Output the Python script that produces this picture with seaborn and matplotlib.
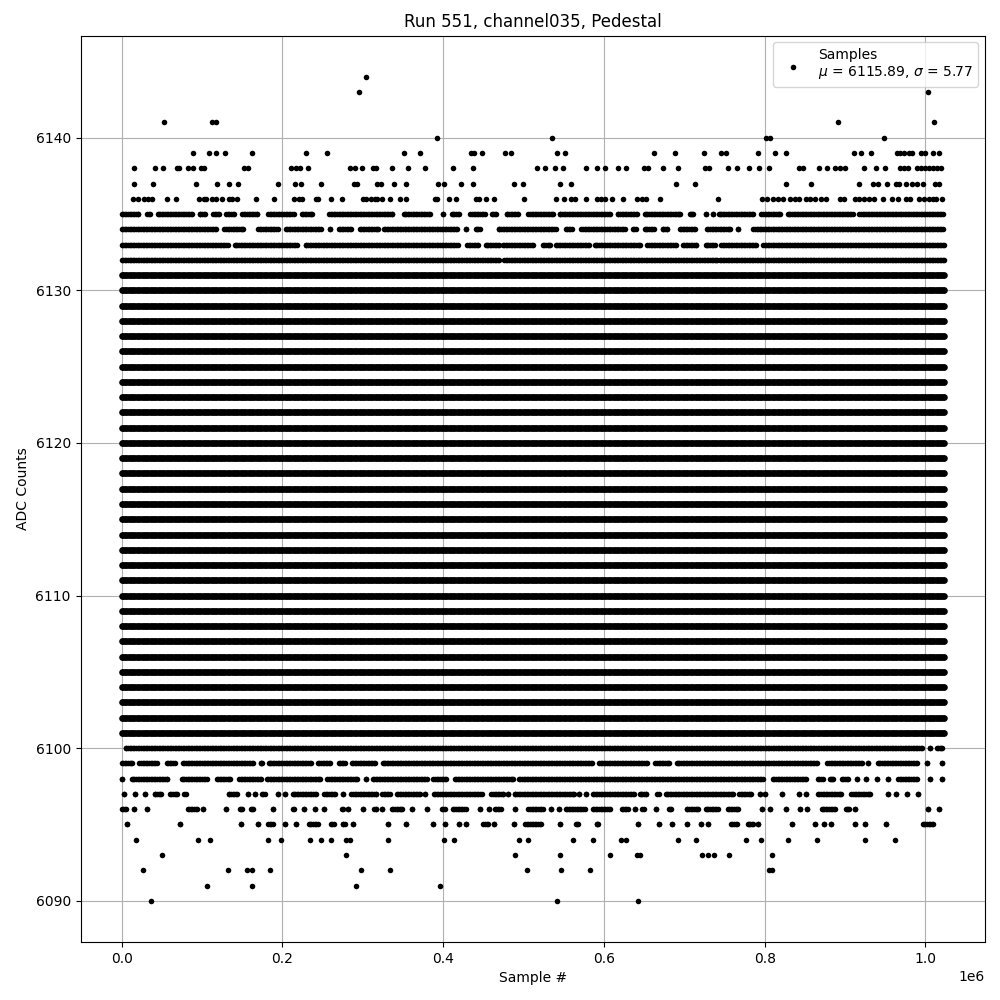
import matplotlib
matplotlib.use("Agg")
import matplotlib.pyplot as plt
import pandas as pd
import seaborn as sns

TITLE = "Run 551, channel035, Pedestal"
X_LABEL = "Sample #"
Y_LABEL = "ADC Counts"
LEGEND_LABEL = "Samples\n$\\mu$ = 6115.89, $\\sigma$ = 5.77"

# Sample positions (thousands) at which the solid rows are drawn. The source has
# about a million samples per channel; these stand in for what cannot be resolved.
SAMPLE_GRID = [
    0, 2, 4, 6, 8, 10, 12, 14, 16, 18, 20, 22, 24, 26, 28, 30, 32, 34, 36, 38, 40, 42,
    44, 46, 48, 50, 52, 54, 56, 58, 60, 62, 64, 66, 68, 70, 72, 74, 76, 78, 80, 82, 84,
    86, 88, 90, 92, 94, 96, 98, 100, 102, 104, 106, 108, 110, 112, 114, 116, 118, 120,
    122, 124, 126, 128, 130, 132, 134, 136, 138, 140, 142, 144, 146, 148, 150, 152, 154,
    156, 158, 160, 162, 164, 166, 168, 170, 172, 174, 176, 178, 180, 182, 184, 186, 188,
    190, 192, 194, 196, 198, 200, 202, 204, 206, 208, 210, 212, 214, 216, 218, 220, 222,
    224, 226, 228, 230, 232, 234, 236, 238, 240, 242, 244, 246, 248, 250, 252, 254, 256,
    258, 260, 262, 264, 266, 268, 270, 272, 274, 276, 278, 280, 282, 284, 286, 288, 290,
    292, 294, 296, 298, 300, 302, 304, 306, 308, 310, 312, 314, 316, 318, 320, 322, 324,
    326, 328, 330, 332, 334, 336, 338, 340, 342, 344, 346, 348, 350, 352, 354, 356, 358,
    360, 362, 364, 366, 368, 370, 372, 374, 376, 378, 380, 382, 384, 386, 388, 390, 392,
    394, 396, 398, 400, 402, 404, 406, 408, 410, 412, 414, 416, 418, 420, 422, 424, 426,
    428, 430, 432, 434, 436, 438, 440, 442, 444, 446, 448, 450, 452, 454, 456, 458, 460,
    462, 464, 466, 468, 470, 472, 474, 476, 478, 480, 482, 484, 486, 488, 490, 492, 494,
    496, 498, 500, 502, 504, 506, 508, 510, 512, 514, 516, 518, 520, 522, 524, 526, 528,
    530, 532, 534, 536, 538, 540, 542, 544, 546, 548, 550, 552, 554, 556, 558, 560, 562,
    564, 566, 568, 570, 572, 574, 576, 578, 580, 582, 584, 586, 588, 590, 592, 594, 596,
    598, 600, 602, 604, 606, 608, 610, 612, 614, 616, 618, 620, 622, 624, 626, 628, 630,
    632, 634, 636, 638, 640, 642, 644, 646, 648, 650, 652, 654, 656, 658, 660, 662, 664,
    666, 668, 670, 672, 674, 676, 678, 680, 682, 684, 686, 688, 690, 692, 694, 696, 698,
    700, 702, 704, 706, 708, 710, 712, 714, 716, 718, 720, 722, 724, 726, 728, 730, 732,
    734, 736, 738, 740, 742, 744, 746, 748, 750, 752, 754, 756, 758, 760, 762, 764, 766,
    768, 770, 772, 774, 776, 778, 780, 782, 784, 786, 788, 790, 792, 794, 796, 798, 800,
    802, 804, 806, 808, 810, 812, 814, 816, 818, 820, 822, 824, 826, 828, 830, 832, 834,
    836, 838, 840, 842, 844, 846, 848, 850, 852, 854, 856, 858, 860, 862, 864, 866, 868,
    870, 872, 874, 876, 878, 880, 882, 884, 886, 888, 890, 892, 894, 896, 898, 900, 902,
    904, 906, 908, 910, 912, 914, 916, 918, 920, 922, 924, 926, 928, 930, 932, 934, 936,
    938, 940, 942, 944, 946, 948, 950, 952, 954, 956, 958, 960, 962, 964, 966, 968, 970,
    972, 974, 976, 978, 980, 982, 984, 986, 988, 990, 992, 994, 996, 998, 1000, 1002,
    1004, 1006, 1008, 1010, 1012, 1014, 1016, 1018, 1020, 1022, 1023,
]

# ADC levels whose rows are solid across the whole run
SOLID_LEVELS = [
    6101, 6102, 6103, 6104, 6105, 6106, 6107, 6108, 6109, 6110, 6111, 6112, 6113,
    6114, 6115, 6116, 6117, 6118, 6119, 6120, 6121, 6122, 6123, 6124, 6125, 6126,
    6127, 6128, 6129, 6130, 6131,
]

# Isolated samples (thousands)
dots_6144 = [304]
dots_6143 = [295, 1003]
dots_6141 = [53, 112, 117, 891, 1011]
dots_6140 = [392, 535, 802, 807, 948]
dots_6139 = [89, 109, 118, 129, 162, 229, 255, 351, 371, 435, 439, 448, 477, 485,
             542, 552, 662, 688, 724, 746, 752, 792, 813, 827, 911, 920, 932, 965,
             969, 973, 979, 983, 995, 1000, 1010, 1017]
dots_6138 = [16, 42, 52, 69, 72, 82, 89, 99, 103, 152, 157, 211, 217, 222, 232, 284,
             290, 299, 313, 317, 336, 356, 378, 412, 437, 517, 527, 539, 549, 578,
             591, 601, 617, 627, 650, 655, 673, 692, 726, 731, 754, 765, 781, 793,
             806, 843, 848, 868, 877, 888, 894, 900, 923, 939, 950, 968, 973, 978,
             990, 995, 1000, 1005, 1010, 1015, 1020]
dots_6137 = [16, 39, 93, 119, 134, 145, 195, 216, 223, 248, 289, 293, 318, 323, 339,
             354, 393, 401, 422, 437, 488, 499, 545, 559, 690, 713, 826, 858, 918,
             935, 941, 952, 963, 967, 976, 983, 990, 997, 1012, 1017]
dots_6136 = [14, 21, 28, 33, 38, 57, 68, 96, 102, 105, 112, 118, 125, 134, 137, 144,
             167, 190, 214, 221, 224, 242, 244, 261, 274, 300, 304, 310, 315, 318,
             324, 334, 346, 354, 390, 392, 407, 416, 441, 445, 453, 463, 500, 541,
             551, 559, 564, 578, 592, 597, 602, 610, 624, 641, 647, 652, 670, 742,
             797, 803, 810, 817, 823, 832, 838, 843, 851, 857, 863, 870, 876, 894,
             899, 912, 917, 924, 930, 936, 947, 958, 966, 976, 981, 992, 998, 1004,
             1010, 1013, 1021]
dots_6094 = [18, 95, 110, 182, 198, 234, 248, 260, 279, 284, 332, 401, 413, 495, 506,
             562, 587, 621, 627, 692, 715, 777, 796, 829, 865, 925, 962]
dots_6093 = [50, 279, 490, 546, 607, 641, 645, 722, 729, 737, 756, 809]
dots_6092 = [26, 132, 156, 162, 185, 298, 334, 504, 547, 583, 805, 809]
dots_6091 = [106, 162, 291, 396]
dots_6090 = [36, 542, 642]

# Stretches of a partly filled row (first and last sample, thousands)
spans_6135 = [(0, 21), (32, 35), (45, 88), (97, 104), (114, 121), (130, 140), (150, 169),
              (182, 214), (224, 237), (258, 337), (351, 384), (400, 400), (411, 420),
              (434, 452), (461, 466), (479, 493), (506, 537), (545, 607), (617, 641),
              (651, 695), (707, 711), (727, 727), (736, 736), (743, 785), (796, 819),
              (829, 910), (918, 1022)]
spans_6134 = [(0, 117), (128, 151), (170, 194), (204, 248), (259, 259), (271, 286),
              (296, 319), (327, 417), (428, 428), (441, 446), (469, 540), (553, 560),
              (572, 626), (636, 640), (651, 662), (673, 679), (695, 713), (728, 757),
              (767, 767), (786, 1022)]
spans_6133 = [(0, 132), (141, 218), (229, 418), (430, 443), (453, 469), (475, 512),
              (524, 533), (541, 581), (589, 645), (654, 690), (698, 715), (727, 738),
              (746, 789), (798, 1023)]
spans_6132 = [(0, 470), (476, 741), (745, 1023)]
spans_6100 = [(5, 996), (1006, 1006), (1014, 1021)]
spans_6099 = [(0, 13), (22, 44), (57, 66), (76, 163), (173, 175), (183, 236), (244, 259),
              (270, 278), (287, 315), (325, 585), (594, 654), (664, 681), (691, 865),
              (878, 921), (929, 929), (941, 989), (1002, 1002), (1021, 1021)]
spans_6098 = [(0, 0), (13, 57), (75, 106), (119, 135), (146, 173), (181, 247), (256, 293),
              (304, 304), (313, 380), (388, 404), (415, 487), (495, 798), (810, 851),
              (867, 872), (881, 885), (896, 904), (915, 915), (926, 926), (940, 940),
              (954, 954), (966, 990), (1006, 1006), (1021, 1021)]
spans_6097 = [(3, 3), (17, 17), (29, 29), (41, 49), (60, 69), (78, 80), (133, 143),
              (157, 157), (166, 166), (175, 178), (194, 194), (203, 203), (213, 242),
              (252, 265), (275, 275), (286, 317), (324, 334), (343, 371), (378, 378),
              (389, 448), (460, 475), (481, 481), (489, 563), (569, 569), (578, 578),
              (587, 637), (645, 653), (666, 668), (677, 761), (768, 783), (794, 794),
              (800, 800), (822, 822), (843, 843), (852, 852), (867, 895), (908, 931),
              (954, 954), (963, 963), (977, 977), (991, 991)]
spans_6096 = [(0, 5), (15, 15), (31, 31), (83, 94), (101, 101), (130, 130), (147, 150),
              (161, 164), (188, 188), (213, 214), (227, 227), (240, 240), (252, 252),
              (274, 275), (282, 282), (300, 300), (314, 317), (324, 324), (336, 349),
              (361, 361), (380, 380), (399, 402), (412, 428), (446, 446), (457, 457),
              (465, 472), (490, 490), (506, 524), (534, 534), (544, 544), (553, 576),
              (587, 607), (622, 630), (639, 639), (648, 650), (665, 665), (681, 684),
              (703, 717), (727, 742), (755, 767), (797, 797), (807, 807), (826, 826),
              (844, 844), (853, 853), (871, 887), (901, 905), (913, 913), (1003, 1003),
              (1017, 1017)]
spans_6095 = [(7, 7), (73, 73), (149, 149), (170, 170), (182, 188), (203, 203), (217, 217),
              (233, 244), (261, 264), (275, 278), (288, 288), (331, 331), (354, 354),
              (388, 388), (402, 402), (420, 420), (429, 429), (450, 456), (463, 463),
              (488, 488), (502, 522), (546, 546), (565, 568), (591, 593), (643, 643),
              (669, 669), (685, 685), (703, 703), (721, 721), (729, 729), (758, 766),
              (779, 785), (792, 792), (834, 834), (863, 863), (874, 874), (883, 883),
              (913, 913), (925, 925), (951, 951), (997, 1010)]


def expand(spans):
    """Sample positions of a partly filled row."""
    out = []
    for first, last in spans:
        out += [first, last] + [s for s in SAMPLE_GRID if first < s < last]
    return out


rows = {
    6144: dots_6144, 6143: dots_6143, 6141: dots_6141, 6140: dots_6140,
    6139: dots_6139, 6138: dots_6138, 6137: dots_6137, 6136: dots_6136,
    6135: expand(spans_6135), 6134: expand(spans_6134), 6133: expand(spans_6133),
    6132: expand(spans_6132), 6100: expand(spans_6100), 6099: expand(spans_6099),
    6098: expand(spans_6098), 6097: expand(spans_6097), 6096: expand(spans_6096),
    6095: expand(spans_6095), 6094: dots_6094, 6093: dots_6093, 6092: dots_6092,
    6091: dots_6091, 6090: dots_6090,
}

df = pd.DataFrame(
    [(s * 1000, level) for level, samples in rows.items() for s in samples],
    columns=["sample", "adc"],
)
df_solid = pd.DataFrame(
    [(s * 1000, level) for level in SOLID_LEVELS for s in SAMPLE_GRID],
    columns=["sample", "adc"],
)

fig, ax = plt.subplots(figsize=(10, 10), dpi=100)
# Solid rows: a million overlapping samples build up slightly wider than one dot
sns.scatterplot(
    data=df_solid, x="sample", y="adc", ax=ax, color="black", marker=".", s=90,
    edgecolor="black", linewidth=0, zorder=2,
)
sns.scatterplot(
    data=df, x="sample", y="adc", ax=ax, color="black", marker=".", s=64,
    edgecolor="black", linewidth=0, zorder=2, label=LEGEND_LABEL,
)
ax.set_title(TITLE)
ax.set_xlabel(X_LABEL)
ax.set_ylabel(Y_LABEL)
ax.grid(True)
ax.ticklabel_format(axis="y", useOffset=False, style="plain")
ax.legend(loc="upper right")
fig.subplots_adjust(left=0.0805, right=0.985, top=0.9645, bottom=0.058)
fig.savefig("out.png", dpi=100)
